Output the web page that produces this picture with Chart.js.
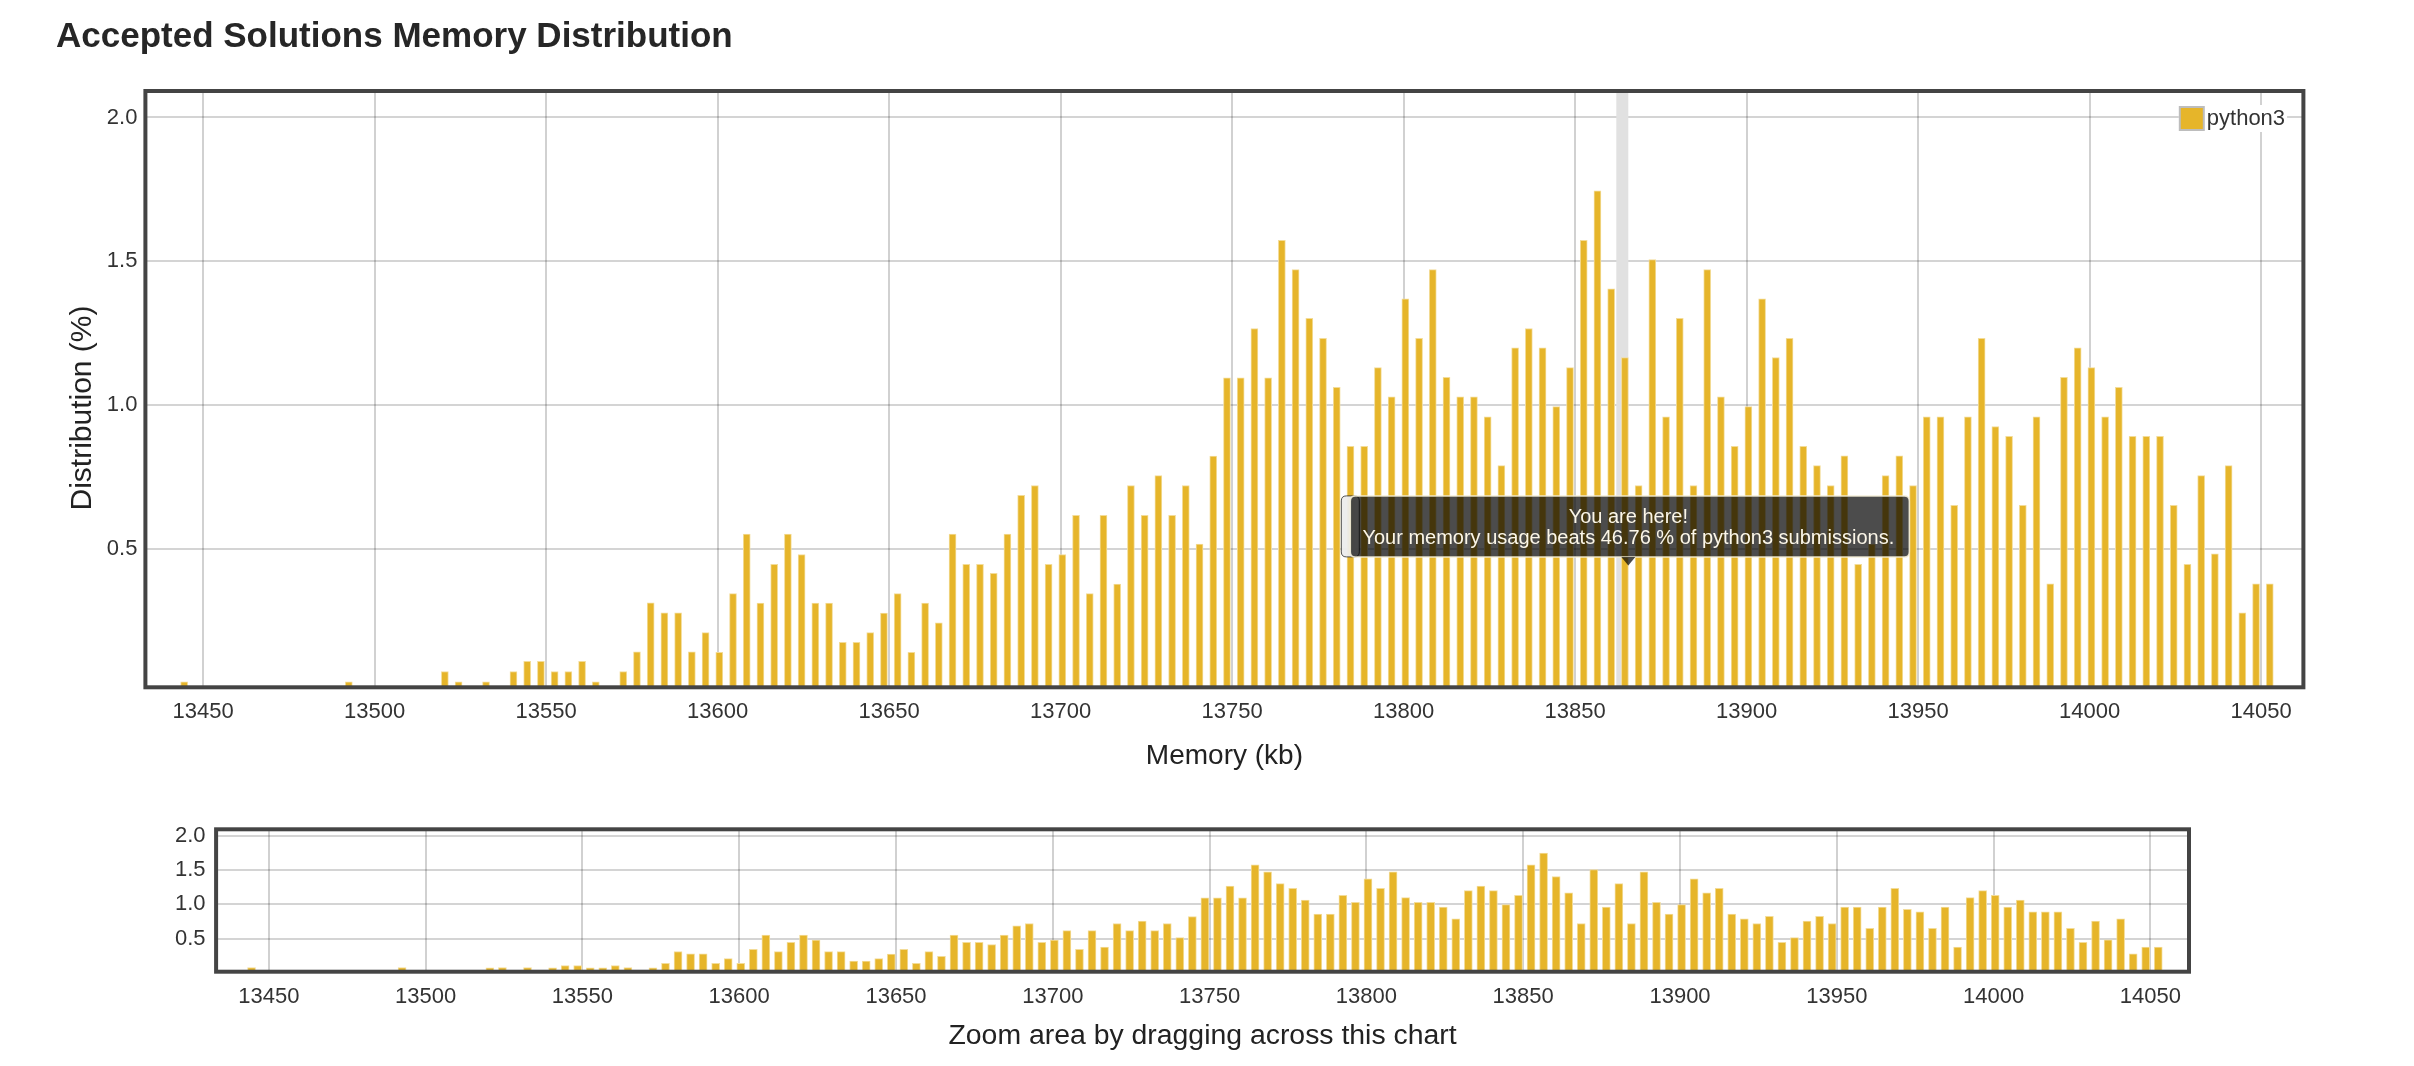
<!DOCTYPE html>
<html>
<head>
<meta charset="utf-8">
<title>Accepted Solutions Memory Distribution</title>
<script src="https://cdn.jsdelivr.net/npm/chart.js@4.4.1/dist/chart.umd.min.js"></script>
<style>
	html, body { margin: 0; padding: 0; background: #fff; }
	body { width: 2414px; height: 1066px; position: relative; overflow: hidden; }
	#main { position: absolute; left: 0; top: 0; }
	#nav { position: absolute; left: 0; top: 800px; }
</style>
</head>
<body>
<canvas id="main" width="2414" height="800"></canvas>
<canvas id="nav" width="2414" height="266"></canvas>
<script>
// memory bins (kb, bin centre) and share of accepted python3 submissions (%)
var memory = [
	13444.5, 13492.5, 13520.5, 13524.5, 13532.5, 13540.5, 13544.5, 13548.5, 13552.5, 13556.5,
	13560.5, 13564.5, 13572.5, 13576.5, 13580.5, 13584.5, 13588.5, 13592.5, 13596.5, 13600.5,
	13604.5, 13608.5, 13612.5, 13616.5, 13620.5, 13624.5, 13628.5, 13632.5, 13636.5, 13640.5,
	13644.5, 13648.5, 13652.5, 13656.5, 13660.5, 13664.5, 13668.5, 13672.5, 13676.5, 13680.5,
	13684.5, 13688.5, 13692.5, 13696.5, 13700.5, 13704.5, 13708.5, 13712.5, 13716.5, 13720.5,
	13724.5, 13728.5, 13732.5, 13736.5, 13740.5, 13744.5, 13748.5, 13752.5, 13756.5, 13760.5,
	13764.5, 13768.5, 13772.5, 13776.5, 13780.5, 13784.5, 13788.5, 13792.5, 13796.5, 13800.5,
	13804.5, 13808.5, 13812.5, 13816.5, 13820.5, 13824.5, 13828.5, 13832.5, 13836.5, 13840.5,
	13844.5, 13848.5, 13852.5, 13856.5, 13860.5, 13864.5, 13868.5, 13872.5, 13876.5, 13880.5,
	13884.5, 13888.5, 13892.5, 13896.5, 13900.5, 13904.5, 13908.5, 13912.5, 13916.5, 13920.5,
	13924.5, 13928.5, 13932.5, 13936.5, 13940.5, 13944.5, 13948.5, 13952.5, 13956.5, 13960.5,
	13964.5, 13968.5, 13972.5, 13976.5, 13980.5, 13984.5, 13988.5, 13992.5, 13996.5, 14000.5,
	14004.5, 14008.5, 14012.5, 14016.5, 14020.5, 14024.5, 14028.5, 14032.5, 14036.5, 14040.5,
	14044.5, 14048.5, 14052.5
];
var distribution = [
	0.037, 0.037, 0.073, 0.037, 0.037, 0.073, 0.108, 0.108, 0.073, 0.073,
	0.108, 0.037, 0.073, 0.141, 0.312, 0.277, 0.277, 0.141, 0.208, 0.140,
	0.344, 0.551, 0.311, 0.446, 0.551, 0.480, 0.311, 0.311, 0.174, 0.174,
	0.208, 0.276, 0.344, 0.140, 0.311, 0.242, 0.551, 0.446, 0.446, 0.414,
	0.551, 0.686, 0.720, 0.446, 0.480, 0.616, 0.344, 0.616, 0.377, 0.720,
	0.616, 0.754, 0.616, 0.720, 0.516, 0.822, 1.094, 1.094, 1.266, 1.094,
	1.573, 1.471, 1.301, 1.232, 1.061, 0.856, 0.856, 1.130, 1.028, 1.369,
	1.232, 1.471, 1.096, 1.028, 1.028, 0.959, 0.789, 1.199, 1.266, 1.199,
	0.994, 1.130, 1.573, 1.745, 1.404, 1.165, 0.720, 1.506, 0.959, 1.301,
	0.720, 1.471, 1.028, 0.856, 0.994, 1.369, 1.165, 1.232, 0.856, 0.789,
	0.720, 0.823, 0.446, 0.516, 0.754, 0.823, 0.720, 0.959, 0.959, 0.651,
	0.959, 1.232, 0.925, 0.891, 0.651, 0.959, 0.378, 1.096, 1.199, 1.130,
	0.959, 1.061, 0.891, 0.891, 0.891, 0.651, 0.446, 0.754, 0.482, 0.789,
	0.277, 0.378, 0.378
];
var xTicks = [13450, 13500, 13550, 13600, 13650, 13700, 13750, 13800, 13850, 13900, 13950, 14000, 14050];
var yTicks = [0.5, 1.0, 1.5, 2.0];

var hereBin = 13864.5;
var hereText = ["You are here!", "Your memory usage beats 46.76 % of python3 submissions."];

var FONT = '"Liberation Sans", Arial, Helvetica, sans-serif';
var BAR = '#e6b52a';
var BAR_EDGE = '#f3dc98';
Chart.defaults.font.family = FONT;

var points = memory.map(function (m, i) { return { x: m, y: distribution[i] }; });

function makeScales(o) {
	return {
		x: {
			type: 'linear', min: 13433.2, max: 14062.3, offset: false,
			afterBuildTicks: function (s) { s.ticks = xTicks.map(function (v) { return { value: v }; }); },
			afterFit: function (s) { s.height = o.xHeight; },
			grid: { color: 'rgba(0,0,0,0.18)', lineWidth: 2, drawTicks: false, offset: false },
			border: { display: false },
			ticks: { padding: o.xPad, color: '#333', font: { size: 22 }, maxRotation: 0, callback: function (v) { return String(v); } },
			title: { display: true, text: o.xTitle, color: '#222', font: { size: o.titleSize }, padding: { top: 0, bottom: o.titlePad } }
		},
		y: {
			min: 0.018, max: 2.092,
			afterBuildTicks: function (s) { s.ticks = yTicks.map(function (v) { return { value: v }; }); },
			afterFit: function (s) { s.width = o.yWidth; },
			grid: { color: 'rgba(0,0,0,0.17)', lineWidth: 2, drawTicks: false },
			border: { display: false },
			ticks: { padding: o.yPad, color: '#333', font: { size: 22 }, callback: function (v) { return v.toFixed(1); } }
		}
	};
}

// dark frame round the plot area
var frame = {
	id: 'frame',
	afterDatasetsDraw: function (chart) {
		var a = chart.chartArea, ctx = chart.ctx;
		ctx.save();
		ctx.strokeStyle = '#444';
		ctx.lineWidth = 4;
		ctx.strokeRect(a.left, a.top, a.right - a.left, a.bottom - a.top);
		ctx.restore();
	}
};

// grey column behind the bar of this submission
var hereBand = {
	id: 'hereBand',
	beforeDatasetsDraw: function (chart) {
		var a = chart.chartArea, x = chart.scales.x, ctx = chart.ctx;
		var x0 = x.getPixelForValue(hereBin - 2.5), x1 = x.getPixelForValue(hereBin + 1);
		ctx.save();
		ctx.fillStyle = '#e1e1e1';
		ctx.fillRect(x0, a.top, x1 - x0, a.bottom - a.top);
		ctx.restore();
	}
};

var yTitle = {
	id: 'yTitle',
	afterDraw: function (chart) {
		var ctx = chart.ctx;
		ctx.save();
		ctx.translate(83, 408);
		ctx.rotate(-Math.PI / 2);
		ctx.font = '30px ' + FONT;
		ctx.fillStyle = '#222';
		ctx.textAlign = 'center';
		ctx.textBaseline = 'middle';
		ctx.fillText('Distribution (%)', 0, 0);
		ctx.restore();
	}
};

var legendBox = {
	id: 'legendBox',
	afterDraw: function (chart) {
		var a = chart.chartArea, ctx = chart.ctx;
		var bx = a.right - 124.6, by = a.top + 15;
		ctx.save();
		ctx.font = '22px ' + FONT;
		var tw = ctx.measureText(chart.data.datasets[0].label).width;
		ctx.fillStyle = '#fff';
		ctx.fillRect(bx, by - 1, 26 + 4 + tw, 27);
		ctx.fillStyle = '#bdbdbd';
		ctx.fillRect(bx, by, 26, 25);
		ctx.fillStyle = BAR;
		ctx.fillRect(bx + 2, by + 2, 22, 21);
		ctx.fillStyle = '#333';
		ctx.textBaseline = 'middle';
		ctx.fillText(chart.data.datasets[0].label, bx + 28, by + 13);
		ctx.restore();
	}
};

function roundRect(ctx, x, y, w, h, r) {
	ctx.beginPath();
	ctx.moveTo(x + r, y);
	ctx.lineTo(x + w - r, y);
	ctx.quadraticCurveTo(x + w, y, x + w, y + r);
	ctx.lineTo(x + w, y + h - r);
	ctx.quadraticCurveTo(x + w, y + h, x + w - r, y + h);
	ctx.lineTo(x + r, y + h);
	ctx.quadraticCurveTo(x, y + h, x, y + h - r);
	ctx.lineTo(x, y + r);
	ctx.quadraticCurveTo(x, y, x + r, y);
	ctx.closePath();
}

// "you are here" box pointing at the submission's bin
var hereTip = {
	id: 'hereTip',
	afterDraw: function (chart) {
		var ctx = chart.ctx;
		var cx = chart.scales.x.getPixelForValue(hereBin + 1);
		var tipY = chart.scales.y.getPixelForValue(0.442);
		var w = 568, h = 61;
		var left = cx - 287, bottom = tipY - 8.5, top = bottom - h;
		ctx.save();
		// faint second box peeking out on the left
		roundRect(ctx, left, top, 18, h, 5);
		ctx.fillStyle = 'rgba(236,236,236,0.95)';
		ctx.fill();
		ctx.strokeStyle = 'rgba(40,40,40,0.8)';
		ctx.lineWidth = 1;
		ctx.stroke();
		roundRect(ctx, left + 9, top, w - 9, h, 5);
		ctx.fillStyle = 'rgba(0,0,0,0.7)';
		ctx.fill();
		ctx.strokeStyle = 'rgba(245,238,215,0.9)';
		ctx.lineWidth = 1.5;
		ctx.stroke();
		ctx.beginPath();
		ctx.moveTo(cx - 7, bottom);
		ctx.lineTo(cx, tipY);
		ctx.lineTo(cx + 7, bottom);
		ctx.closePath();
		ctx.fillStyle = 'rgba(0,0,0,0.7)';
		ctx.fill();
		ctx.fillStyle = '#fbf6e8';
		ctx.font = '20px ' + FONT;
		ctx.textAlign = 'center';
		ctx.textBaseline = 'middle';
		ctx.fillText(hereText[0], cx, top + 22);
		ctx.fillText(hereText[1], cx, top + 42.5);
		ctx.restore();
	}
};

new Chart(document.getElementById('main'), {
	type: 'bar',
	data: {
		datasets: [{
			label: 'python3', data: points,
			backgroundColor: BAR, borderColor: BAR_EDGE, borderWidth: 1,
			barThickness: 7
		}]
	},
	options: {
		responsive: false, animation: false, devicePixelRatio: 1,
		layout: { padding: { left: 56, right: 110.6, top: 0, bottom: 0 } },
		plugins: {
			legend: { display: false },
			tooltip: { enabled: false },
			title: {
				display: true, text: 'Accepted Solutions Memory Distribution', align: 'start',
				color: '#262626', font: { size: 35, weight: 'bold' }, padding: { top: 16.5, bottom: 32.5 }
			}
		},
		scales: makeScales({ xHeight: 112.7, yWidth: 89.4, xPad: 11, yPad: 8, titleSize: 28, titlePad: 27.2, xTitle: 'Memory (kb)' })
	},
	plugins: [hereBand, frame, yTitle, legendBox, hereTip]
});

new Chart(document.getElementById('nav'), {
	type: 'bar',
	data: {
		datasets: [{
			label: 'python3', data: points,
			backgroundColor: BAR, borderColor: BAR_EDGE, borderWidth: 1,
			barThickness: 8, minBarLength: 4
		}]
	},
	options: {
		responsive: false, animation: false, devicePixelRatio: 1,
		layout: { padding: { left: 0, right: 225, top: 29.3, bottom: 0 } },
		plugins: { legend: { display: false }, tooltip: { enabled: false } },
		scales: makeScales({ xHeight: 94.3, yWidth: 216.1, xPad: 11.8, yPad: 10.5, titleSize: 28.4, titlePad: 12.5, xTitle: 'Zoom area by dragging across this chart' })
	},
	plugins: [frame]
});
</script>
</body>
</html>
